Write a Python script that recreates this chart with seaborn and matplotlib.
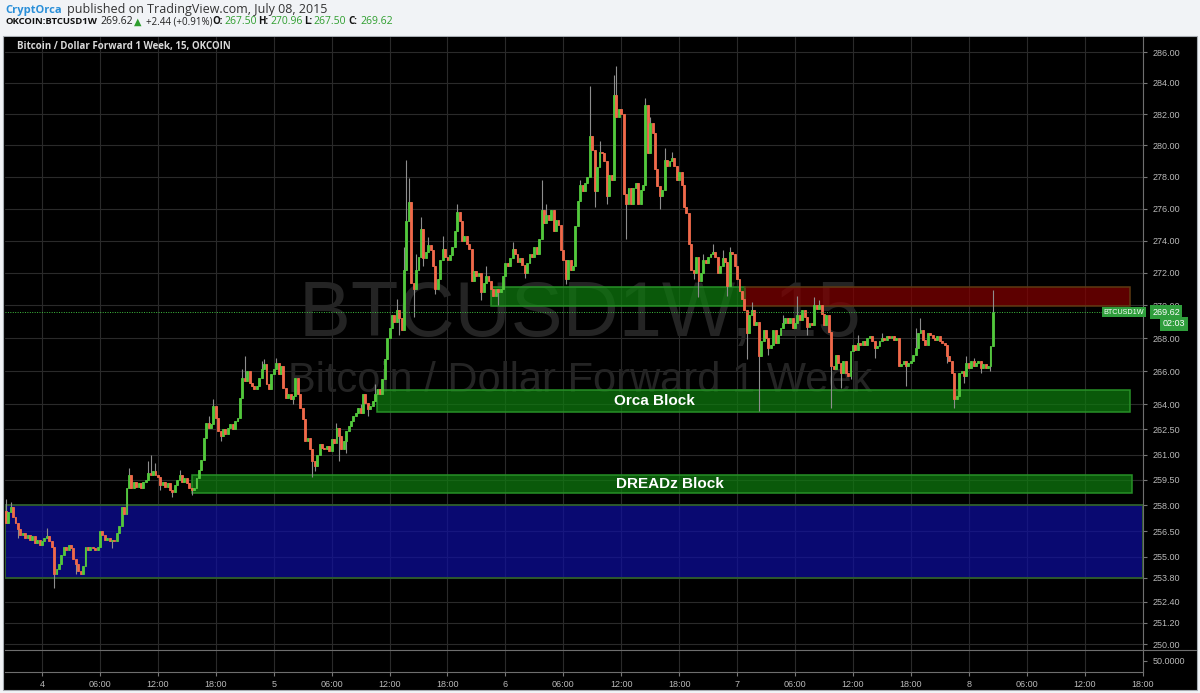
import numpy as np
import pandas as pd
import matplotlib
matplotlib.use('Agg')
import matplotlib.pyplot as plt
from matplotlib.patches import Rectangle
from matplotlib.lines import Line2D
from matplotlib.ticker import NullLocator, NullFormatter
import seaborn as sns

# OKCOIN BTCUSD1W, 15 minute candles from 3 Jul 20:15 to 8 Jul 02:30 (2015)
first_open = 257.7
closes = [
    257.0, 257.6, 257.9, 257.3, 257.0, 256.6, 256.3, 256.4,
    256.1, 256.3, 256.0, 256.2, 255.8, 256.0, 255.7, 255.9,
    256.1, 256.2, 255.9, 255.6, 254.0, 254.3, 254.6, 255.1,
    255.6, 255.4, 255.7, 255.5, 254.9, 254.6, 254.2, 254.0,
    254.5, 255.6, 255.4, 255.6, 255.5, 255.4, 255.6, 256.5,
    256.3, 256.0, 256.1, 255.9, 256.0, 255.9, 256.4, 256.8,
    257.9, 257.5, 259.0, 259.8, 259.0, 259.4, 259.1, 259.3,
    259.0, 259.4, 259.5, 259.9, 259.8, 260.0, 259.8, 259.7,
    259.2, 259.4, 259.1, 259.3, 258.9, 258.8, 259.2, 259.5,
    259.8, 259.4, 259.6, 259.3, 259.0, 258.9, 259.0, 259.6,
    260.1, 260.7, 262.0, 262.9, 262.6, 262.8, 263.9, 263.2,
    262.4, 262.1, 262.5, 262.2, 262.6, 262.8, 262.5, 263.0,
    263.2, 264.4, 265.6, 265.4, 266.0, 265.3, 265.1, 264.9,
    265.1, 265.6, 266.1, 266.4, 265.2, 264.9, 265.8, 266.1,
    266.5, 265.8, 266.3, 265.0, 264.4, 264.6, 264.3, 264.5,
    265.6, 264.6, 263.8, 263.1, 261.8, 262.0, 261.3, 260.6,
    260.3, 261.0, 261.6, 261.4, 261.3, 261.5, 261.2, 261.9,
    261.7, 262.6, 262.1, 261.3, 261.8, 262.4, 262.7, 263.0,
    263.3, 263.5, 263.8, 263.5, 264.6, 264.1, 263.7, 263.9,
    264.2, 264.6, 264.9, 264.6, 265.5, 266.7, 268.0, 268.6,
    269.4, 269.0, 269.7, 269.2, 268.5, 272.2, 275.2, 276.4,
    271.4, 271.0, 272.2, 273.0, 274.7, 272.9, 273.3, 273.7,
    273.4, 272.4, 271.0, 271.6, 272.8, 273.5, 273.0, 272.8,
    273.1, 273.6, 274.6, 275.8, 275.2, 274.0, 274.3, 273.8,
    273.5, 271.5, 272.1, 271.8, 272.0, 270.8, 271.4, 271.8,
    271.5, 271.0, 270.6, 271.0, 270.8, 271.0, 271.8, 272.6,
    272.4, 272.9, 273.5, 273.2, 272.7, 272.9, 272.5, 272.0,
    272.6, 273.2, 273.0, 273.6, 273.2, 274.1,
    275.9, 275.1, 275.6, 275.3, 275.9, 274.6, 275.3, 275.0,
    273.4, 272.8, 271.6, 272.8, 272.2, 272.4, 274.9, 276.5,
    277.5, 277.1, 277.6, 278.0, 280.6, 279.7, 277.1, 278.6,
    279.6, 279.5, 279.0, 276.8, 278.1, 277.8, 283.2, 281.8,
    282.3, 282.0, 276.9, 276.3, 277.3, 276.3, 277.3, 277.6,
    276.3, 277.2, 277.5, 282.6, 279.5, 281.4, 280.8, 278.5,
    277.4, 276.8, 277.2, 279.1, 278.7, 279.0, 279.2, 278.7,
    277.8, 278.3, 277.5, 276.1, 275.7, 273.8, 272.2, 272.0,
    273.0, 271.5, 272.0, 272.8, 272.6, 273.0, 273.2, 273.3,
    273.0, 272.0, 272.4, 272.9, 272.7, 271.2, 273.3, 273.2,
    272.4, 271.6, 270.9, 270.4, 269.7, 268.3, 269.4, 269.7,
    268.8, 269.0, 266.9, 267.8, 268.5, 268.0, 267.4, 267.6,
    268.5, 267.7, 268.2, 268.6, 268.9, 269.2, 268.9, 269.2,
    268.6, 268.9, 269.4, 269.1, 269.7, 269.3, 268.7, 268.9,
    268.8, 270.0, 269.8, 270.0, 269.5, 268.8, 269.4, 268.4,
    266.3, 266.1, 267.0, 266.5, 265.9, 266.6, 265.9, 265.7,
    267.2, 267.6, 267.3, 267.7, 267.6, 267.8, 267.6, 268.0,
    268.1, 267.8, 267.4, 267.5, 267.8, 268.0, 267.9, 268.1,
    268.0, 268.1, 267.9, 268.0, 266.3, 266.4, 266.6, 266.3,
    266.5, 266.6, 267.0, 267.4, 268.3, 268.5, 267.9, 267.6,
    268.3, 268.2, 268.0, 267.9, 268.1, 267.8, 267.7, 267.6,
    266.9, 266.6, 265.9, 264.3, 264.5, 265.9, 266.0, 265.7,
    266.5, 266.2, 266.6, 266.3, 266.5, 266.6, 266.2, 266.4,
    266.2, 266.3, 267.5, 269.62,
]
# wick tips that stick out of the bodies (candle number -> price)
wick_highs = {0: 258.4, 2: 258.2, 17: 256.7, 51: 260.2, 59: 260.6, 60: 261.0, 62: 260.5,
              72: 260.1, 84: 263.3, 86: 264.3, 98: 266.1, 99: 266.9, 106: 266.6, 107: 266.7,
              112: 266.8, 123: 263.6, 137: 262.9, 147: 264.0, 153: 265.2, 162: 270.4,
              165: 273.6, 166: 279.1, 167: 277.9, 170: 273.2, 172: 275.5, 175: 274.2,
              181: 274.3, 187: 276.3, 199: 272.4, 210: 273.9, 222: 277.8, 224: 276.3,
              238: 277.8, 242: 283.8, 246: 280.3, 252: 284.5, 253: 285.1, 265: 283.0,
              267: 281.8, 273: 279.8, 276: 279.6, 289: 273.2, 293: 273.8, 297: 273.4,
              300: 273.6, 309: 270.2, 322: 269.4, 328: 270.6, 335: 270.5, 337: 270.3,
              353: 268.2, 363: 268.3, 377: 268.6, 379: 269.2, 398: 266.9, 401: 266.8,
              409: 270.96}
wick_lows = {5: 256.1, 20: 253.2, 29: 254.0, 44: 255.5, 64: 258.9, 69: 258.5, 77: 258.6,
             89: 261.8, 119: 264.0, 127: 259.7, 128: 260.0, 138: 260.6, 141: 261.1,
             150: 263.3, 163: 268.2, 169: 269.3, 173: 272.4, 178: 270.7, 197: 270.3,
             204: 270.0, 215: 271.7, 232: 271.3, 244: 276.1, 249: 276.3, 257: 274.1,
             271: 276.0, 285: 271.6, 287: 270.5, 299: 270.6, 307: 266.7, 312: 263.6,
             316: 267.0, 332: 268.2, 342: 263.8, 346: 265.0, 350: 265.5, 360: 266.8,
             373: 265.1, 390: 266.5, 393: 263.8, 397: 265.3, 404: 265.9, 408: 266.0}

x_tick_labels = ['4', '06:00', '12:00', '18:00', '5', '06:00', '12:00', '18:00',
                 '6', '06:00', '12:00', '18:00', '7', '06:00', '12:00', '18:00',
                 '8', '06:00', '12:00', '18:00']
y_tick_values = [286, 284, 282, 280, 278, 276, 274, 272, 270, 268, 266, 264,
                 262.5, 261, 259.5, 258, 256.5, 255, 253.8, 252.4, 251.2, 250]

blue_zone = [253.8, 258.0]
dreadz_block = [258.7, 259.8]
orca_block = [263.55, 264.85]
upper_block = [269.95, 271.1]
last_price = 269.62

sns.set_theme(style='dark', rc={'figure.facecolor': '#f1f3f6', 'axes.facecolor': '#000000',
                                'grid.color': '#2a2a2a'})
plt.rcParams['font.family'] = ['Liberation Sans', 'DejaVu Sans']

candles = pd.DataFrame({'close': closes})
candles['open'] = candles['close'].shift(1).fillna(first_open)
candles['high'] = candles[['open', 'close']].max(axis=1)
candles['low'] = candles[['open', 'close']].min(axis=1)
for k, v in wick_highs.items():
    candles.loc[k, 'high'] = v
for k, v in wick_lows.items():
    candles.loc[k, 'low'] = v
x = np.arange(len(candles))
up = candles['close'] >= candles['open']

W, H = 1200, 693
fig = plt.figure(figsize=(12, 6.93), dpi=100)
fig.add_artist(Rectangle((3 / W, 3 / H), 1194 / W, 654 / H, transform=fig.transFigure,
                         facecolor='black', edgecolor='#a8adb3', linewidth=0.8, zorder=0))

ax = fig.add_axes([5 / W, 43 / H, 1138 / W, 613 / H])
ax_low = fig.add_axes([5 / W, 21 / H, 1138 / W, 22 / H], sharex=ax)
ax.set_yscale('log')

# watermark
ax.text(580 / W, 1 - 315 / H, 'BTCUSD1W, 15', transform=fig.transFigure, ha='center', va='center',
        fontsize=56, color='#242424', zorder=0.6)
ax.text(580 / W, 1 - 381 / H, 'Bitcoin / Dollar Forward 1 Week', transform=fig.transFigure,
        ha='center', va='center', fontsize=30, color='#242424', zorder=0.6)

# zones
ax.add_patch(Rectangle((-0.35, blue_zone[0]), 471.6, blue_zone[1] - blue_zone[0],
                       facecolor='#0e0ea2', alpha=0.7, edgecolor='none', zorder=1))
ax.add_patch(Rectangle((-0.35, blue_zone[0]), 471.6, blue_zone[1] - blue_zone[0],
                       facecolor='none', edgecolor='#2d5a2d', linewidth=1.4, zorder=1.1))
for x0, x1, zone, fc, ec in [(77.1, 466.8, dreadz_block, '#0f7c0f', '#279027'),
                             (153.7, 466.0, orca_block, '#0f7c0f', '#279027'),
                             (201.0, 306.1, upper_block, '#0f7c0f', '#279027'),
                             (306.1, 466.0, upper_block, '#820000', '#5e3a12')]:
    ax.add_patch(Rectangle((x0, zone[0]), x1 - x0, zone[1] - zone[0],
                           facecolor=fc, alpha=0.72, edgecolor='none', zorder=1))
    ax.add_patch(Rectangle((x0, zone[0]), x1 - x0, zone[1] - zone[0],
                           facecolor='none', edgecolor=ec, linewidth=1.1, zorder=1.1))

ax.text(268.9, np.sqrt(orca_block[0] * orca_block[1]), 'Orca Block', ha='center', va='center',
        fontsize=11, fontweight='bold', color='white', zorder=5)
ax.text(275.0, np.sqrt(dreadz_block[0] * dreadz_block[1]), 'DREADz Block', ha='center',
        va='center', fontsize=11, fontweight='bold', color='white', zorder=5)

# candles
ax.vlines(x, candles['low'], candles['high'], color='#8e8e8e', linewidth=0.8, zorder=2)
body_colors = np.where(up, '#52c83c', '#f0694a')
ax.bar(x, (candles['close'] - candles['open']).abs().clip(lower=0.05),
       bottom=candles[['open', 'close']].min(axis=1), width=0.8, color=body_colors,
       edgecolor=body_colors, linewidth=0.6, zorder=3)

ax.axhline(last_price, color='#3fbf3f', linestyle=(0, (1, 1.5)), linewidth=0.7, zorder=4)

x_tick_pos = [15 + 24 * k for k in range(len(x_tick_labels))]
ax.set_xlim(-0.35, 471.2)
ax.set_ylim(249.66, 286.98)
ax.yaxis.set_minor_locator(NullLocator())
ax.yaxis.set_minor_formatter(NullFormatter())
ax.set_yticks(y_tick_values)
ax.set_yticklabels([f'{v:.2f}' for v in y_tick_values])
ax.set_xticks(x_tick_pos)
ax.grid(True, color='#2a2a2a', linewidth=0.8)
ax.set_axisbelow(True)
ax.tick_params(axis='y', left=False, right=True, labelleft=False, labelright=True, length=3,
               color='#777777', labelcolor='#b9b9b9', labelsize=6.5, pad=4, width=0.8)
ax.tick_params(axis='x', bottom=False, labelbottom=False)
for side in ['left', 'top', 'bottom']:
    ax.spines[side].set_visible(False)
ax.spines['right'].set_color('#6e6e6e')
ax.spines['right'].set_linewidth(0.8)

ax.text(12 / 1138, 1 - 9 / 613, 'Bitcoin / Dollar Forward 1 Week, 15, OKCOIN', transform=ax.transAxes,
        ha='left', va='center', fontsize=7, fontweight='bold', color='#d8d8d8',
        family=['Open Sans', 'DejaVu Sans'], zorder=6)

# lower pane
ax_low.set_facecolor('black')
ax_low.set_ylim(0, 100)
ax_low.set_yticks([50])
ax_low.set_yticklabels(['50.0000'])
ax_low.set_xticks(x_tick_pos)
ax_low.set_xticklabels(x_tick_labels)
ax_low.grid(True, axis='x', color='#2a2a2a', linewidth=0.8)
ax_low.grid(False, axis='y')
ax_low.tick_params(axis='y', left=False, right=True, labelleft=False, labelright=True, length=3,
                   color='#777777', labelcolor='#b9b9b9', labelsize=6.5, pad=4, width=0.8)
ax_low.tick_params(axis='x', bottom=True, length=3, color='#777777', labelcolor='#b9b9b9',
                   labelsize=6.5, pad=3, width=0.8)
ax_low.spines['left'].set_visible(False)
for side in ['top', 'right', 'bottom']:
    ax_low.spines[side].set_color('#6e6e6e')
    ax_low.spines[side].set_linewidth(0.8)
fig.add_artist(Line2D([1143 / W, 1196 / W], [1 - 650 / H, 1 - 650 / H], transform=fig.transFigure,
                      color='#6e6e6e', linewidth=0.8))

# last price tags
tag = dict(boxstyle='square,pad=0.25', facecolor='#2f9e3c', edgecolor='none')
fig.text(1124 / W, 1 - 312 / H, 'BTCUSD1W', ha='center', va='center', fontsize=5.2, color='white', bbox=tag)
fig.text(1166 / W, 1 - 312 / H, '269.62', ha='center', va='center', fontsize=6.5, color='white', bbox=tag)
fig.text(1174 / W, 1 - 324 / H, '02:03', ha='center', va='center', fontsize=6.5, color='white', bbox=tag)

# header
hdr = ['Open Sans', 'DejaVu Sans']
fig.text(5 / W, 1 - 10 / H, 'CryptOrca', ha='left', va='center', fontsize=8, fontweight='bold',
         color='#2a8fd8', family=hdr)
fig.text(67 / W, 1 - 10 / H, 'published on TradingView.com, July 08, 2015', ha='left', va='center',
         fontsize=9, color='#333333', family=hdr)
header_bits = [(5, 'OKCOIN:BTCUSD1W', '#111111', 'bold', 6.8), (100, '269.62', '#222222', 'normal', 7.5),
               (134, '▲', '#2e9e2e', 'normal', 7), (146, '+2.44 (+0.91%)', '#222222', 'normal', 7),
               (212, 'O:', '#111111', 'bold', 7), (224, '267.50', '#2e9e2e', 'normal', 7.5),
               (258, 'H:', '#111111', 'bold', 7), (270, '270.96', '#2e9e2e', 'normal', 7.5),
               (304, 'L:', '#111111', 'bold', 7), (313, '267.50', '#2e9e2e', 'normal', 7.5),
               (348, 'C:', '#111111', 'bold', 7), (360, '269.62', '#2e9e2e', 'normal', 7.5)]
for px, s, c, w, fs in header_bits:
    fig.text(px / W, 1 - 22 / H, s, ha='left', va='center', fontsize=fs, color=c, fontweight=w, family=hdr)

fig.savefig('out.png', dpi=100)
